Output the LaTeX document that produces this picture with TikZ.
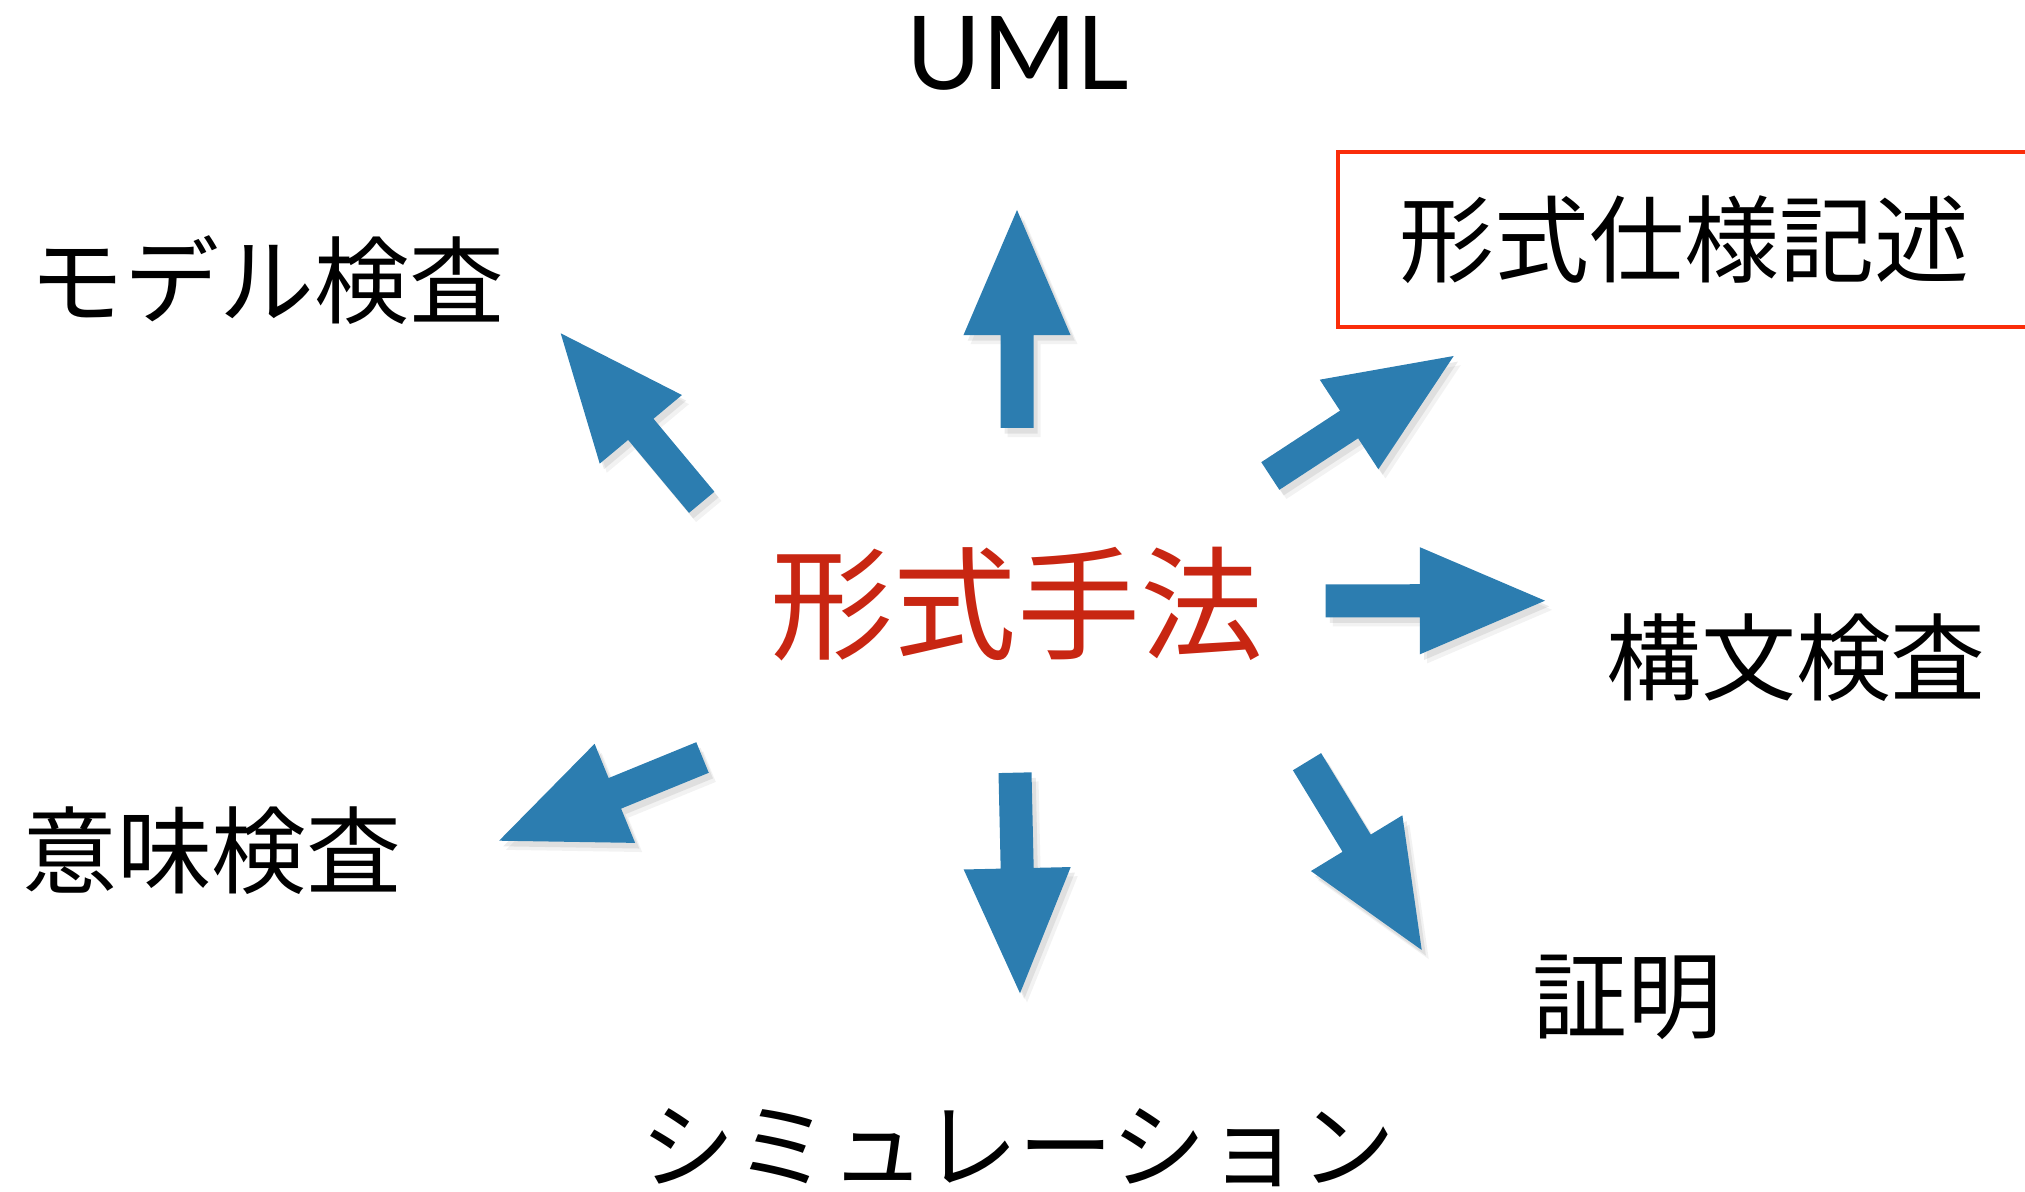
\documentclass[tikz,border=0pt]{standalone}
\usepackage{fontspec}
\setmainfont{Noto Sans CJK JP}
\newfontfamily\latinfont{Lato}
\usetikzlibrary{calc}
\definecolor{arrowblue}{RGB}{44,125,176}
\definecolor{titlered}{RGB}{200,38,18}
\definecolor{boxred}{RGB}{250,45,10}
\newcommand\sw{0.165cm}
\newcommand\hw{0.535cm}
\newcommand\hl{1.25cm}
\newcommand\fatarrowpath[2]{%
  ($(#1)!\sw!90:(#2)$) -- ($(B)!\sw!90:(#2)$) -- ($(B)!\hw!90:(#2)$) -- (#2)
  -- ($(B)!\hw!-90:(#2)$) -- ($(B)!\sw!-90:(#2)$) -- ($(#1)!\sw!-90:(#2)$) -- cycle}
\newcommand\fatarrow[2]{%
  \coordinate (B) at ($(#2)!\hl!(#1)$);
  \fill[arrowshadow, fill opacity=0.05, transform canvas={shift={(2pt,-2.6pt)}}] \fatarrowpath{#1}{#2};
  \fill[arrowshadow, fill opacity=0.08, transform canvas={shift={(1.2pt,-1.6pt)}}] \fatarrowpath{#1}{#2};
  \fill[arrowbody] \fatarrowpath{#1}{#2};}
\begin{document}
\begin{tikzpicture}[x=0.01cm,y=-0.01cm,
  arrowbody/.style={fill=arrowblue},
  arrowshadow/.style={fill=black},
  label/.style={inner sep=0pt,font=\fontsize{27pt}{27pt}\selectfont},
  centre/.style={inner sep=0pt,text=titlered,font=\fontsize{35pt}{35pt}\selectfont},
  specbox/.style={draw=boxred,line width=1.1pt,inner sep=0pt,minimum width=6.93cm,minimum height=1.75cm,font=\fontsize{27pt}{27pt}\selectfont}]
\useasboundingbox (0,0) rectangle (2025,1192);
\clip (0,0) rectangle (2025,1192);
% labels
\node[centre] (main) at (1017,604) {形式手法};
\node[inner sep=0pt,anchor=base,font=\latinfont\fontsize{29pt}{29pt}\selectfont] (uml) at (1018,90) {UML};
\node[label] (model) at (267,280) {モデル検査};
\node[specbox] (spec) at (1684.5,239.5) {形式仕様記述};
\node[label] (syntax) at (1796,658) {構文検査};
\node[label] (semantic) at (212,851) {意味検査};
\node[label] (proof) at (1627,997) {証明};
\node[label,anchor=north] (sim) at (1018,1108) {シミュレーション};
% arrow end points
\coordinate (upT) at (1017,428);   \coordinate (upH) at (1017,210);
\coordinate (ulT) at (701.7,502.3); \coordinate (ulH) at (560.7,333.3);
\coordinate (urT) at (1270.3,476); \coordinate (urH) at (1453.7,356);
\coordinate (rT) at (1325.7,600.8); \coordinate (rH) at (1545,600.7);
\coordinate (lrT) at (1307,761.7); \coordinate (lrH) at (1421.7,950);
\coordinate (dT) at (1015,772.7);  \coordinate (dH) at (1020,993.3);
\coordinate (llT) at (702.5,757.5); \coordinate (llH) at (499.1,840.7);
\fatarrow{upT}{upH}
\fatarrow{ulT}{ulH}
\fatarrow{urT}{urH}
\fatarrow{rT}{rH}
\fatarrow{lrT}{lrH}
\fatarrow{dT}{dH}
\fatarrow{llT}{llH}
\end{tikzpicture}
\end{document}
